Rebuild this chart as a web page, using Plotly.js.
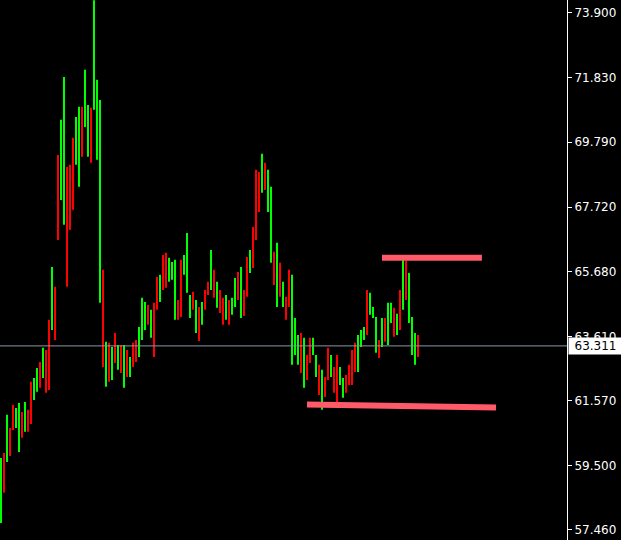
<!DOCTYPE html>
<html>
<head>
<meta charset="utf-8">
<script src="https://cdn.plot.ly/plotly-3.0.1.min.js"></script>
<style>
  html, body { margin: 0; padding: 0; background: #000000; }
  #chart { width: 621px; height: 540px; }
</style>
</head>
<body>
<div id="chart"></div>
<script>
// Price bars, oldest first
const open = [
  58.25, 59.69, 59.84, 60.64, 61.28, 60.80, 60.32, 61.12, 60.70, 61.21,
  61.91, 61.72, 61.98, 62.67, 62.48, 63.02, 63.82, 64.14, 64.93, 69.23,
  68.27, 67.48, 68.75, 68.91, 69.86, 69.23, 69.23, 70.82, 70.50, 69.54,
  70.75, 71.13, 69.54, 64.77, 65.57, 62.23, 63.18, 62.39, 63.57, 62.71,
  63.18, 62.17, 63.02, 62.42, 63.34, 63.44, 63.12, 63.66, 63.98, 64.52,
  63.76, 64.46, 65.31, 64.84, 66.05, 66.11, 65.47, 65.57, 64.39, 64.68,
  65.89, 65.73, 65.16, 64.30, 64.96, 63.88, 64.46, 64.14, 65.00, 65.28,
  65.25, 65.57, 64.68, 65.03, 64.68, 64.30, 64.68, 64.39, 64.77, 65.57,
  64.46, 64.96, 66.11, 65.79, 66.94, 68.75, 68.72, 68.34, 69.07, 67.70,
  66.20, 66.11, 64.77, 65.79, 64.71, 64.77, 65.57, 63.18, 63.18, 62.87,
  63.57, 62.23, 62.93, 63.44, 63.12, 62.45, 62.61, 61.59, 62.23, 63.12,
  62.48, 62.48, 62.87, 62.23, 61.78, 62.29, 62.61, 63.09, 63.31, 62.71,
  63.37, 63.60, 64.93, 64.46, 64.30, 63.25, 63.41, 63.44, 64.07, 63.66,
  64.20, 64.39, 63.82, 64.96, 64.61, 65.89, 64.30, 63.34, 62.93, 63.57
];
const high = [
  59.75, 59.91, 61.12, 60.70, 61.43, 61.34, 61.50, 61.21, 61.53, 61.28,
  62.17, 62.29, 62.61, 62.80, 63.25, 63.18, 64.14, 65.82, 65.19, 69.38,
  70.50, 71.86, 69.00, 69.07, 69.93, 70.59, 70.91, 70.91, 72.09, 70.97,
  70.88, 74.30, 71.77, 71.13, 65.73, 63.44, 63.41, 63.28, 63.72, 63.34,
  63.34, 63.34, 63.18, 62.96, 63.41, 63.50, 63.91, 64.84, 64.71, 64.61,
  64.46, 64.68, 65.50, 65.57, 66.20, 66.27, 66.11, 65.98, 66.05, 64.77,
  66.05, 66.20, 66.90, 64.93, 65.03, 64.77, 64.55, 64.71, 65.09, 65.35,
  66.36, 65.73, 65.35, 65.09, 64.84, 64.93, 64.77, 64.84, 65.47, 65.66,
  65.82, 65.09, 66.14, 66.36, 67.09, 68.91, 68.84, 69.42, 69.13, 68.91,
  68.37, 66.30, 66.59, 65.95, 65.35, 64.87, 65.73, 65.57, 64.20, 63.66,
  63.72, 63.57, 63.02, 63.57, 63.57, 63.02, 62.71, 62.55, 62.32, 63.25,
  63.02, 62.64, 63.02, 62.64, 62.29, 62.39, 62.71, 63.18, 63.41, 63.66,
  63.82, 63.91, 65.09, 65.00, 64.55, 64.23, 63.50, 64.20, 64.20, 64.68,
  64.68, 64.52, 64.33, 65.09, 66.05, 66.01, 65.63, 64.23, 63.72, 63.66
];
const low = [
  57.68, 58.64, 59.62, 59.81, 60.64, 60.70, 59.94, 60.39, 60.58, 60.58,
  60.83, 61.59, 61.85, 61.98, 62.29, 61.82, 61.91, 63.82, 63.50, 66.68,
  67.95, 67.16, 65.19, 67.00, 67.64, 69.07, 68.37, 69.32, 70.27, 69.32,
  69.13, 70.82, 69.23, 64.68, 62.64, 62.01, 62.17, 62.23, 62.77, 62.55,
  62.45, 61.98, 62.32, 62.32, 62.64, 62.80, 62.96, 63.50, 63.82, 63.98,
  63.57, 62.96, 64.46, 64.71, 65.09, 65.16, 65.35, 65.41, 64.14, 64.14,
  64.23, 65.57, 65.00, 64.20, 64.46, 63.72, 63.47, 63.98, 64.46, 64.93,
  65.09, 64.84, 64.52, 64.36, 63.98, 64.14, 63.98, 64.30, 64.55, 64.77,
  64.20, 64.26, 64.87, 65.63, 65.79, 66.68, 67.57, 68.18, 68.27, 67.57,
  65.95, 65.25, 64.55, 64.87, 64.55, 64.14, 64.55, 62.71, 63.02, 62.71,
  62.45, 61.98, 62.23, 62.77, 63.02, 62.32, 61.75, 61.28, 61.69, 62.23,
  62.32, 61.82, 61.50, 62.07, 61.66, 61.82, 62.07, 62.07, 62.48, 62.48,
  63.28, 63.50, 63.66, 64.30, 64.20, 63.09, 62.93, 63.28, 63.44, 63.34,
  64.04, 63.60, 63.66, 63.82, 64.46, 64.77, 64.04, 63.02, 62.71, 62.96
];
const close = [
  59.37, 58.80, 60.80, 60.00, 60.80, 61.21, 61.28, 60.58, 61.34, 60.70,
  61.02, 62.10, 62.48, 62.17, 63.12, 62.07, 62.87, 65.09, 63.82, 67.00,
  70.18, 68.75, 67.00, 67.32, 68.75, 70.34, 70.18, 69.70, 71.29, 70.82,
  69.86, 71.93, 71.29, 66.68, 63.34, 63.18, 62.39, 63.12, 62.93, 63.18,
  62.61, 63.12, 62.48, 62.80, 62.80, 62.96, 63.76, 64.61, 64.52, 64.14,
  64.30, 63.50, 64.68, 65.35, 65.31, 65.41, 65.95, 65.89, 64.77, 64.30,
  65.09, 66.11, 66.52, 64.77, 64.61, 64.61, 64.14, 64.58, 64.61, 65.06,
  66.11, 65.03, 65.16, 64.52, 64.20, 64.77, 64.20, 64.77, 65.35, 65.09,
  65.57, 64.52, 65.09, 66.20, 66.36, 67.95, 67.79, 69.23, 68.43, 68.65,
  67.32, 65.47, 66.05, 65.09, 65.16, 64.30, 64.77, 63.98, 63.98, 63.34,
  62.71, 63.34, 62.48, 62.93, 63.44, 62.87, 62.07, 62.29, 61.85, 62.48,
  62.87, 62.01, 61.75, 62.55, 62.17, 61.98, 62.23, 62.80, 62.71, 63.50,
  63.69, 63.82, 64.20, 64.84, 64.46, 63.50, 63.12, 64.07, 63.66, 64.46,
  64.58, 63.82, 64.20, 64.52, 65.79, 65.41, 64.61, 63.98, 63.50, 63.311
];

// Hand-drawn levels (bar index, price)
const resistanceX = [127, 160.3];
const resistanceY = [66.11, 66.11];
const supportX = [102, 165];
const supportY = [61.45, 61.35];

// Price scale
const priceTicks = [73.900, 71.830, 69.790, 67.720, 65.680, 63.610, 61.570, 59.500, 57.460];

const barIndex = close.map((_, i) => i);
const lastPrice = close[close.length - 1];
const levelColor = '#ff5a6a';
const scaleFont = { family: 'DejaVu Sans, Verdana, sans-serif', size: 12, color: '#ffffff' };

const traces = [
  {
    type: 'ohlc',
    x: barIndex,
    open: open,
    high: high,
    low: low,
    close: close,
    tickwidth: 0.2,
    increasing: { line: { color: '#00ff00', width: 2 } },
    decreasing: { line: { color: '#ff0000', width: 2 } },
    hoverinfo: 'skip',
    showlegend: false
  },
  {
    type: 'scatter',
    mode: 'lines',
    x: resistanceX,
    y: resistanceY,
    line: { color: levelColor, width: 6 },
    hoverinfo: 'skip',
    showlegend: false
  },
  {
    type: 'scatter',
    mode: 'lines',
    x: supportX,
    y: supportY,
    line: { color: levelColor, width: 6 },
    hoverinfo: 'skip',
    showlegend: false
  }
];

const layout = {
  width: 621,
  height: 540,
  margin: { l: 0, r: 54, t: 0, b: 0, pad: 0 },
  paper_bgcolor: '#000000',
  plot_bgcolor: '#000000',
  showlegend: false,
  xaxis: {
    range: [-1 / 3, 566 / 3],
    visible: false,
    showgrid: false,
    zeroline: false,
    rangeslider: { visible: false },
    fixedrange: true
  },
  yaxis: {
    side: 'right',
    range: [57.142, 74.305],
    tickvals: priceTicks,
    tickformat: '.3f',
    showgrid: false,
    zeroline: false,
    showline: true,
    linecolor: '#ffffff',
    linewidth: 1,
    ticks: 'outside',
    ticklen: 4,
    tickcolor: '#ffffff',
    tickfont: scaleFont,
    automargin: false,
    fixedrange: true
  },
  shapes: [
    {
      type: 'line',
      xref: 'paper', x0: 0, x1: 1,
      yref: 'y', y0: lastPrice, y1: lastPrice,
      line: { color: '#8a96a8', width: 1 },
      layer: 'above'
    }
  ],
  annotations: [
    {
      xref: 'paper', x: 1, xanchor: 'left', xshift: 1,
      yref: 'y', y: lastPrice, yanchor: 'middle',
      text: lastPrice.toFixed(3),
      showarrow: false,
      bgcolor: '#ffffff',
      borderpad: 1,
      width: 51,
      align: 'center',
      font: { family: 'DejaVu Sans, Verdana, sans-serif', size: 12, color: '#000000' }
    }
  ]
};

Plotly.newPlot('chart', traces, layout, { displayModeBar: false, staticPlot: true });
</script>
</body>
</html>
